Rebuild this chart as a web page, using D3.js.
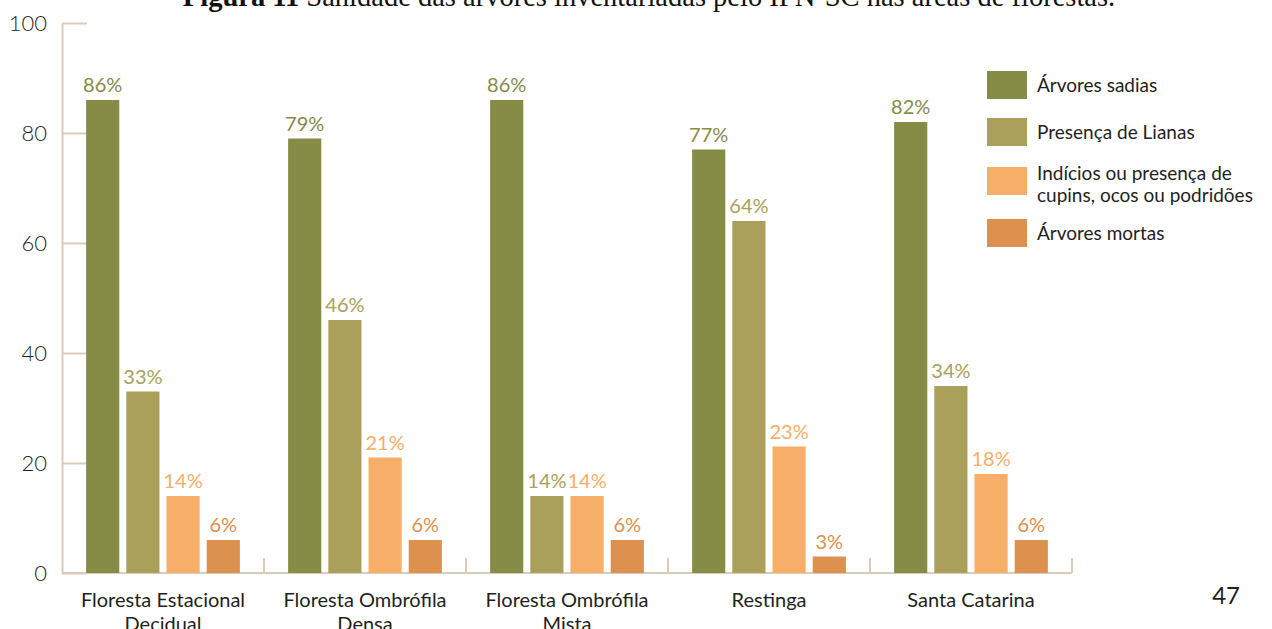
<!DOCTYPE html>
<html>
<head>
<meta charset="utf-8">
<script src="https://cdn.jsdelivr.net/npm/d3@7"></script>
<style>
  html, body { margin: 0; padding: 0; background: #fff; }
  svg { display: block; }
  .sans { font-family: Lato, "Noto Sans", sans-serif; }
</style>
</head>
<body>
<svg id="chart" width="1272" height="629"></svg>
<script>
// Forest categories (two-line labels) and series
const categories = [
  ["Floresta Estacional", "Decidual"],
  ["Floresta Ombrófila", "Densa"],
  ["Floresta Ombrófila", "Mista"],
  ["Restinga"],
  ["Santa Catarina"]
];
const seriesNames = [
  ["Árvores sadias"],
  ["Presença de Lianas"],
  ["Indícios ou presença de", "cupins, ocos ou podridões"],
  ["Árvores mortas"]
];
const sadias   = [86, 79, 86, 77, 82];
const lianas   = [33, 46, 14, 64, 34];
const indicios = [14, 21, 14, 23, 18];
const mortas   = [6, 6, 6, 3, 6];
const yTicks = [0, 20, 40, 60, 80, 100];
const colors = ["#868b46", "#aba05b", "#f6ae69", "#dc914f"];

const series = [sadias, lianas, indicios, mortas];
const svg = d3.select("#chart");
const axisColor = "#d9cdb9";
const textColor = "#231f20";

const plotLeft = 62, plotRight = 1072, plotTop = 23, plotBottom = 573;

const x0 = d3.scaleBand().domain(d3.range(categories.length)).range([plotLeft, plotRight]).padding(0);
const x1 = d3.scaleBand().domain(d3.range(series.length)).range([0, x0.bandwidth()])
  .paddingInner(0.175).paddingOuter(0.6);
const y = d3.scaleLinear().domain([0, 100]).range([plotBottom, plotTop]);

// Title (partially above the page edge)
const title = svg.append("text")
  .attr("x", 649).attr("y", 6)
  .attr("text-anchor", "middle")
  .attr("font-family", "'Liberation Serif', 'Times New Roman', serif")
  .attr("font-size", 28.5)
  .attr("fill", "#111");
title.append("tspan").attr("font-weight", "bold").text("Figura 11");
title.append("tspan").text(" Sanidade das árvores inventariadas pelo IFN-SC nas áreas de florestas.");

// Y axis with inward ticks
const yAxis = d3.axisLeft(y).tickValues(yTicks).tickSizeInner(-25).tickSizeOuter(0).tickPadding(15);
const gy = svg.append("g").attr("transform", `translate(${plotLeft},0)`).call(yAxis);
gy.select(".domain").attr("stroke", axisColor).attr("stroke-width", 2);
gy.selectAll(".tick line").attr("stroke", axisColor).attr("stroke-width", 2);
gy.selectAll(".tick text")
  .attr("class", "sans")
  .attr("font-size", 22).attr("font-weight", 300)
  .attr("fill", textColor);

// Baseline and category separators
svg.append("line")
  .attr("x1", plotLeft).attr("x2", plotRight).attr("y1", y(0)).attr("y2", y(0))
  .attr("stroke", axisColor).attr("stroke-width", 2);
const bounds = categories.map((c, i) => x0(i)).concat([plotRight]);
svg.selectAll("line.sep").data(bounds.slice(1)).join("line")
  .attr("class", "sep")
  .attr("x1", d => d).attr("x2", d => d)
  .attr("y1", y(0)).attr("y2", y(0) - 15)
  .attr("stroke", axisColor).attr("stroke-width", 2);

// Bars and value labels
const groups = svg.selectAll("g.cat").data(categories).join("g")
  .attr("class", "cat")
  .attr("transform", (d, i) => `translate(${x0(i)},0)`);

groups.each(function(c, ci) {
  const g = d3.select(this);
  const vals = series.map((s, si) => ({ si, v: s[ci] }));
  g.selectAll("rect").data(vals).join("rect")
    .attr("x", d => x1(d.si))
    .attr("y", d => y(d.v))
    .attr("width", x1.bandwidth())
    .attr("height", d => y(0) - y(d.v))
    .attr("fill", d => colors[d.si]);
  g.selectAll("text.val").data(vals).join("text")
    .attr("class", "val sans")
    .attr("x", d => x1(d.si) + x1.bandwidth() / 2)
    .attr("y", d => y(d.v) - 8)
    .attr("text-anchor", "middle")
    .attr("font-size", 20)
    .attr("fill", d => colors[d.si])
    .text(d => d.v + "%");
});

// Category labels
const catLabels = svg.selectAll("text.catlabel").data(categories).join("text")
  .attr("class", "catlabel sans")
  .attr("text-anchor", "middle")
  .attr("font-size", 20)
  .attr("fill", textColor)
  .attr("transform", (d, i) => `translate(${x0(i) + x0.bandwidth() / 2},607)`);
catLabels.selectAll("tspan").data(d => d).join("tspan")
  .attr("x", 0)
  .attr("y", (d, i) => i * 24)
  .text(d => d);

// Legend
const legendTops = [71, 118, 167, 219];
const legend = svg.selectAll("g.leg").data(seriesNames).join("g")
  .attr("class", "leg")
  .attr("transform", (d, i) => `translate(987,${legendTops[i]})`);
legend.append("rect")
  .attr("width", 40).attr("height", 28)
  .attr("fill", (d, i) => colors[i]);
legend.append("text")
  .attr("class", "sans")
  .attr("font-size", 19)
  .attr("fill", textColor)
  .attr("transform", d => `translate(50,${d.length > 1 ? 13 : 21})`)
  .selectAll("tspan").data(d => d).join("tspan")
  .attr("x", 0)
  .attr("y", (d, i) => i * 22)
  .text(d => d);

// Page number
svg.append("text")
  .attr("class", "sans")
  .attr("x", 1240).attr("y", 604)
  .attr("text-anchor", "end")
  .attr("font-size", 24)
  .attr("fill", textColor)
  .text("47");
</script>
</body>
</html>
